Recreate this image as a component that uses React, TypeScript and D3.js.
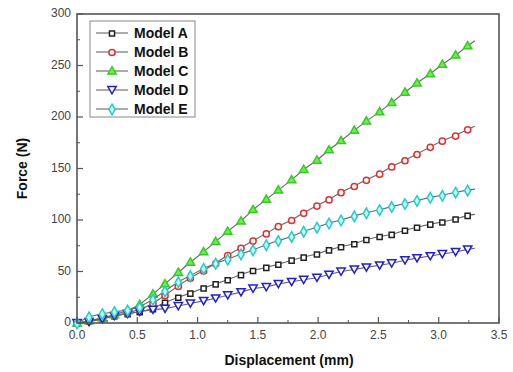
import React from "react";
import * as d3 from "d3";

const displacement = [0.0, 0.1, 0.21, 0.31, 0.42, 0.52, 0.63, 0.73, 0.84, 0.94, 1.05, 1.15, 1.25, 1.36, 1.46, 1.57, 1.67, 1.78, 1.88, 1.99, 2.09, 2.19, 2.3, 2.4, 2.51, 2.61, 2.72, 2.82, 2.93, 3.03, 3.14, 3.24, 3.3];
const modelA = [0, 2, 5, 7, 9, 11, 14, 20, 25, 29, 34, 38, 42, 47, 51, 54, 57, 61, 64, 67, 71, 74, 77, 81, 84, 86, 90, 93, 96, 98, 101, 104.5, 105.5];
const modelB = [0, 2, 4, 7, 10, 13, 19, 27, 36, 44, 51, 58, 66, 73, 80, 87, 94, 100, 107, 114, 120, 127, 133, 139, 145, 152, 158, 164, 171, 177, 182, 188, 191];
const modelC = [0, 2, 5, 8, 12, 18, 28, 38, 49, 59, 69, 79, 89, 99, 110, 120, 129, 139, 149, 158, 168, 177, 187, 196, 205, 214, 224, 233, 242, 251, 260, 269, 274];
const modelD = [0, 1, 4, 7, 9, 11, 13, 14, 16.5, 19, 21.5, 24, 27, 30, 33.5, 35, 38, 40, 42, 44, 47, 50, 52, 54, 56, 58, 61, 63, 65, 67, 69, 71.5, 72.5];
const modelE = [0, 6, 9, 11, 12.5, 15.5, 23, 31, 40, 46, 53, 58, 62, 67, 71, 76, 80, 84, 89, 93, 97, 100, 104, 107, 110, 113, 116, 119, 122, 124, 127, 129, 130];

const seriesNames = ["Model A", "Model B", "Model C", "Model D", "Model E"];
const xTicks = [0, 0.5, 1, 1.5, 2, 2.5, 3, 3.5];
const yTicks = [0, 50, 100, 150, 200, 250, 300];

const styles = [
  { stroke: "#222", fill: "#fff", sym: d3.symbolSquare, size: 26, rot: 0 },
  { stroke: "#e03030", fill: "#fff", sym: d3.symbolCircle, size: 30, rot: 0 },
  { stroke: "#33cc22", fill: "#77e855", sym: d3.symbolTriangle, size: 30, rot: 0 },
  { stroke: "#2020d0", fill: "#fff", sym: d3.symbolTriangle, size: 30, rot: 180 },
  { stroke: "#22cccc", fill: "#c8f8f8", sym: d3.symbolDiamond, size: 32, rot: 0 },
];

export default function App() {
  const W = 513, H = 372;
  const L = 77, R = 499, T = 14, B = 323;
  const x = d3.scaleLinear().domain([0, 3.5]).range([L, R]);
  const y = d3.scaleLinear().domain([0, 300]).range([B, T]);
  const all = [modelA, modelB, modelC, modelD, modelE];
  const line = d3.line<number>().x((_, i) => x(displacement[i])).y((v) => y(v));
  const font = "'Liberation Sans', Arial, sans-serif";
  const xMinor = d3.range(0.25, 3.5, 0.5);
  const yMinor = d3.range(25, 300, 50);
  const frame = "#555";
  return (
    <div style={{ position: "absolute", left: 0, top: 0 }}>
      <svg width={W} height={H} style={{ display: "block", background: "#fff" }}>
        {all.map((vals, si) => (
          <g key={si}>
            <path d={line(vals) || ""} fill="none" stroke="#666" strokeWidth={1.1} />
            {vals.slice(0, vals.length - 1).map((v, i) => (
              <path
                key={i}
                d={d3.symbol().type(styles[si].sym).size(styles[si].size)() || ""}
                transform={`translate(${x(displacement[i])},${y(v) + (styles[si].rot ? -1 : 0.5)}) rotate(${styles[si].rot})`}
                fill={styles[si].fill}
                stroke={styles[si].stroke}
                strokeWidth={1.5}
              />
            ))}
          </g>
        ))}
        <rect x={L} y={T} width={R - L} height={B - T} fill="none" stroke={frame} strokeWidth={1.6} />
        {xTicks.map((t) => (
          <g key={t}>
            <line x1={x(t)} x2={x(t)} y1={B} y2={B - 6} stroke={frame} strokeWidth={1.2} />
            <text x={x(t)} y={B + 16} textAnchor="middle" fontFamily={font} fontSize={12} fill="#444">
              {t.toFixed(1)}
            </text>
          </g>
        ))}
        {xMinor.map((t) => (
          <line key={t} x1={x(t)} x2={x(t)} y1={B} y2={B - 3} stroke={frame} strokeWidth={1} />
        ))}
        {yTicks.map((t) => (
          <g key={t}>
            <line x1={L} x2={L + 6} y1={y(t)} y2={y(t)} stroke={frame} strokeWidth={1.2} />
            <text x={L - 6} y={y(t) + 3} textAnchor="end" fontFamily={font} fontSize={12} fill="#444">
              {t}
            </text>
          </g>
        ))}
        {yMinor.map((t) => (
          <line key={t} x1={L} x2={L + 3} y1={y(t)} y2={y(t)} stroke={frame} strokeWidth={1} />
        ))}
        <text x={(L + R) / 2 + 1} y={365} textAnchor="middle" fontFamily={font} fontSize={14} fontWeight="bold" fill="#111">
          Displacement (mm)
        </text>
        <text
          transform={`translate(27,${(T + B) / 2}) rotate(-90)`}
          textAnchor="middle"
          fontFamily={font}
          fontSize={14}
          fontWeight="bold"
          fill="#111"
        >
          Force (N)
        </text>
        <rect x={90} y={21} width={105} height={96} fill="#fff" stroke="#888" strokeWidth={1} />
        {seriesNames.map((n, i) => {
          const ly = 33 + i * 19;
          return (
            <g key={n}>
              <line x1={96} x2={128} y1={ly} y2={ly} stroke="#666" strokeWidth={1.1} />
              <path
                d={d3.symbol().type(styles[i].sym).size(styles[i].size)() || ""}
                transform={`translate(112,${ly + (styles[i].rot ? -1 : 0.5)}) rotate(${styles[i].rot})`}
                fill={styles[i].fill}
                stroke={styles[i].stroke}
                strokeWidth={1.5}
              />
              <text x={134} y={ly + 5} fontFamily={font} fontSize={14} fontWeight="bold" fill="#111">
                {n}
              </text>
            </g>
          );
        })}
      </svg>
    </div>
  );
}
